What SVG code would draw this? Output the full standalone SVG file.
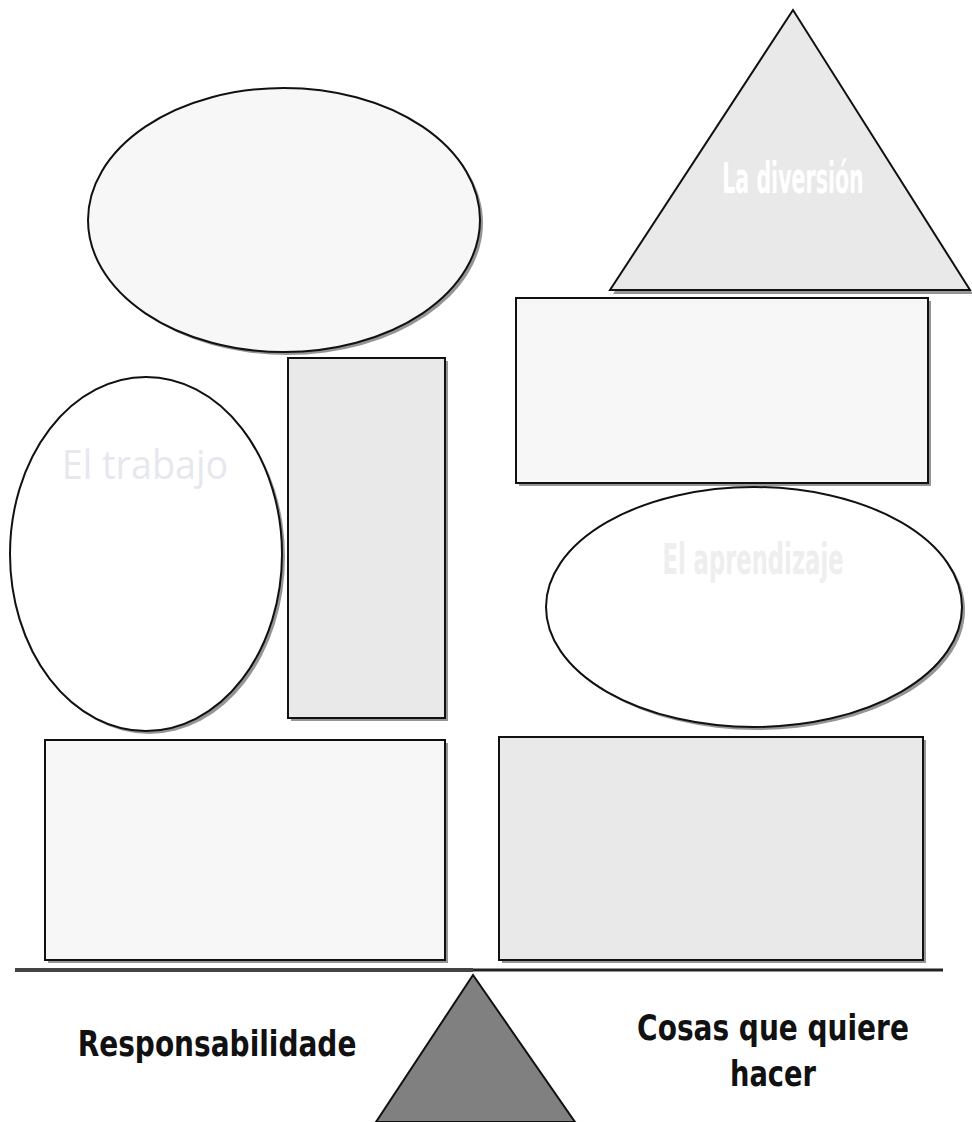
<svg xmlns="http://www.w3.org/2000/svg" width="972" height="1122" viewBox="0 0 972 1122">
<style>
.sh{fill:#7a7a7a;stroke:none;opacity:0.8}
.s{stroke:#111;stroke-width:2}
.l1{fill:#f7f7f7}
.l2{fill:#e9e9e9}
.w{fill:#ffffff}
.lbl{font-family:"DejaVu Sans","Liberation Sans",sans-serif;font-weight:bold;font-size:35px;fill:#111}
.cond{font-family:"DejaVu Sans","Liberation Sans",sans-serif;font-weight:bold;font-size:42px}
</style>
<rect width="972" height="1122" fill="#ffffff"/>
<g id="top-ellipse">
<ellipse class="sh" cx="287" cy="223" rx="196" ry="132"/>
<ellipse class="s l1" cx="284" cy="220" rx="196" ry="132"/>
</g>
<g id="la-diversion">
<polygon class="sh" points="793,14 613,294 973,294"/>
<polygon class="s l2" points="793,10 610,290 970,290"/>
<text class="cond" transform="translate(793,193) scale(0.49,1)" text-anchor="middle" fill="#ffffff">La diversión</text>
</g>
<g id="right-top-rect">
<rect class="sh" x="519" y="301" width="412" height="185"/>
<rect class="s l1" x="516" y="298" width="412" height="185"/>
</g>
<g id="el-trabajo">
<ellipse class="sh" cx="149" cy="557" rx="136" ry="177"/>
<ellipse class="s w" cx="146" cy="554" rx="136" ry="177"/>
<text transform="translate(145,479) scale(0.92,1)" text-anchor="middle" font-family="'Open Sans','DejaVu Sans',sans-serif" font-size="41" fill="#e6e8ee">El trabajo</text>
</g>
<g id="tall-rect">
<rect class="sh" x="291" y="361" width="157" height="360"/>
<rect class="s l2" x="288" y="358" width="157" height="360"/>
</g>
<g id="el-aprendizaje">
<ellipse class="sh" cx="757" cy="610" rx="208" ry="120"/>
<ellipse class="s w" cx="754" cy="607" rx="208" ry="120"/>
<text class="cond" transform="translate(753,574) scale(0.54,1)" text-anchor="middle" fill="#eeeeee">El aprendizaje</text>
</g>
<g id="bottom-left-rect">
<rect class="sh" x="48" y="743" width="400" height="220"/>
<rect class="s l1" x="45" y="740" width="400" height="220"/>
</g>
<g id="bottom-right-rect">
<rect class="sh" x="502" y="740" width="424" height="223"/>
<rect class="s l2" x="499" y="737" width="424" height="223"/>
</g>
<g id="connectors">
<line x1="15" y1="970" x2="473" y2="970" stroke="#444" stroke-width="4"/>
<line x1="473" y1="970" x2="943" y2="970" stroke="#222" stroke-width="3"/>
</g>
<g id="fulcrum">
<polygon points="473,975 376,1122 575,1122" fill="#808080" stroke="#111" stroke-width="2"/>
</g>
<g id="labels">
<text class="lbl" transform="translate(217,1056) scale(0.8,1)" text-anchor="middle">Responsabilidade</text>
<text class="lbl" transform="translate(773,1040) scale(0.8,1)" text-anchor="middle">Cosas que quiere</text>
<text class="lbl" transform="translate(773,1086) scale(0.78,1)" text-anchor="middle">hacer</text>
</g>
</svg>
